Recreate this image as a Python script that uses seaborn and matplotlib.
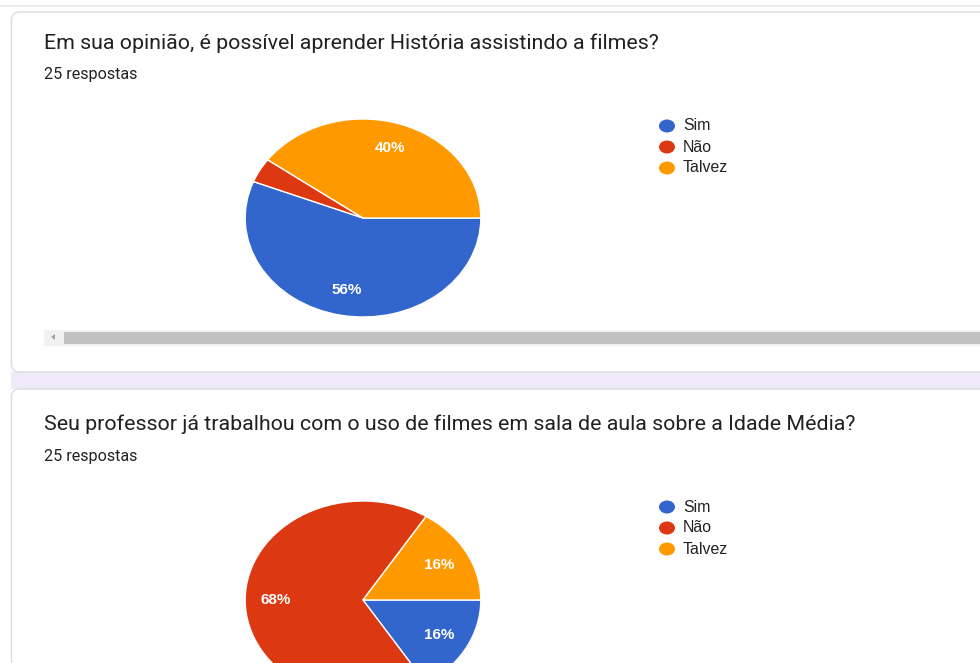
import matplotlib.pyplot as plt
import seaborn as sns
from matplotlib.patches import FancyBboxPatch, Rectangle, Ellipse, Polygon

sns.set_theme(style="white")
plt.rcParams["font.family"] = ["Roboto", "DejaVu Sans"]

# data
categorias = ["Sim", "Não", "Talvez"]
q1_titulo = "Em sua opinião, é possível aprender História assistindo a filmes?"
q1_valores = [14, 1, 10]      # 56%, 4%, 40% de 25
q2_titulo = "Seu professor já trabalhou com o uso de filmes em sala de aula sobre a Idade Média?"
q2_valores = [4, 17, 4]       # 16%, 68%, 16% de 25
respostas = "25 respostas"

cores = sns.color_palette(["#3366cc", "#dc3912", "#ff9900"])

W, H = 980, 663
fig = plt.figure(figsize=(W / 100, H / 100), dpi=100)
fig.patch.set_facecolor("white")

# fundo em coordenadas de pixel
bg = fig.add_axes([0, 0, 1, 1])
bg.set_xlim(0, W)
bg.set_ylim(H, 0)
bg.axis("off")

bg.add_patch(Rectangle((0, 5), W, 2, color="#ececec", lw=0))
bg.add_patch(Rectangle((11, 372), W, 17, color="#eeeaf8", lw=0))
for y0, y1 in [(12, 372), (389, 760)]:
    bg.add_patch(FancyBboxPatch((11.5, y0), 1000, y1 - y0,
                                boxstyle="round,pad=0,rounding_size=8",
                                fc="white", ec="#dadce0", lw=1))

# barra de rolagem
bg.add_patch(Rectangle((44, 330), W - 44, 16, color="#f1f1f1", lw=0))
bg.add_patch(Rectangle((64, 332), W - 64, 12, color="#c1c1c1", lw=0))
bg.add_patch(Polygon([[51, 337], [55, 334], [55, 340]], closed=True, color="#a3a3a3", lw=0))


def bloco(titulo, valores, y_topo, cy):
    bg.text(44, y_topo, titulo, fontsize=15.4, color="#202124", va="center")
    bg.text(44, y_topo + 32, respostas, fontsize=11.6, color="#202124", va="center")

    # pizza (elíptica como no print)
    rx, ry = 119, 100
    ax = fig.add_axes([(363 - rx) / W, (H - (cy + ry)) / H, 2 * rx / W, 2 * ry / H])
    ax.pie(valores, colors=cores, startangle=0, counterclock=False,
           autopct=lambda p: f"{p:.0f}%" if p >= 5 else "",
           pctdistance=0.74,
           wedgeprops={"edgecolor": "white", "linewidth": 1},
           textprops={"color": "white", "fontsize": 11, "weight": "bold",
                      "family": ["Liberation Sans", "DejaVu Sans"]})
    ax.set_xlim(-1.01, 1.01)
    ax.set_ylim(-1.01, 1.01)
    ax.set_aspect("auto")
    ax.axis("off")

    # legenda
    for i, (cat, cor) in enumerate(zip(categorias, cores)):
        ly = y_topo + 83 + i * 21
        bg.add_patch(Ellipse((667, ly), 16, 13, color=cor, lw=0))
        bg.text(683, ly, cat, fontsize=11.4, color="#222222", va="center",
                family=["Liberation Sans", "DejaVu Sans"])


bloco(q1_titulo, q1_valores, 43, 218)
bloco(q2_titulo, q2_valores, 424, 600)

fig.savefig("out.png", dpi=100)
